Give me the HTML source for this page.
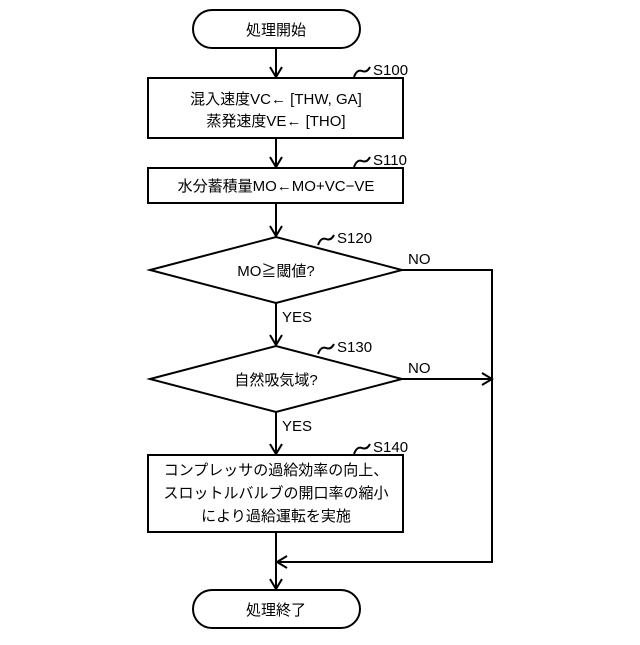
<!DOCTYPE html>
<html><head><meta charset="utf-8"><style>
html,body{margin:0;padding:0;background:#fff;}
svg text{font-family:"Liberation Sans","Noto Sans CJK JP",sans-serif;fill:#000;}
</style></head><body>
<svg width="640" height="640" viewBox="0 0 640 640" xmlns="http://www.w3.org/2000/svg">
<g fill="none" stroke="#000" stroke-width="2">
<rect x="193" y="10" width="167" height="38" rx="19"/>
<rect x="148" y="78" width="255" height="60"/>
<rect x="148" y="168" width="255" height="35"/>
<polygon points="150,270 276,237 402,270 276,303"/>
<polygon points="150,379 276,346 402,379 276,412"/>
<rect x="148" y="455" width="255" height="77"/>
<rect x="193" y="590" width="167" height="38" rx="19"/>
<line x1="276" y1="48" x2="276" y2="77"/>
<line x1="276" y1="138" x2="276" y2="167"/>
<line x1="276" y1="203" x2="276" y2="236"/>
<line x1="276" y1="303" x2="276" y2="345"/>
<line x1="276" y1="412" x2="276" y2="454"/>
<line x1="276" y1="532" x2="276" y2="589"/>
<polyline points="402,270 492,270 492,562 277,562"/>
<line x1="402" y1="379" x2="491" y2="379"/>
<polyline points="270,67 276,77 282,67"/>
<polyline points="270,157 276,167 282,157"/>
<polyline points="270,226 276,236 282,226"/>
<polyline points="270,335 276,345 282,335"/>
<polyline points="270,444 276,454 282,444"/>
<polyline points="270,579 276,589 282,579"/>
<polyline points="482,373 492,379 482,385"/>
<polyline points="287,556 277,562 287,568"/>
<path d="M354,77 q3,-8 8,-6 t8,-4"/>
<path d="M354,167 q3,-8 8,-6 t8,-4"/>
<path d="M318,245 q3,-8 8,-6 t8,-4"/>
<path d="M318,354 q3,-8 8,-6 t8,-4"/>
<path d="M354,454 q3,-8 8,-6 t8,-4"/>
</g>
<g font-size="15">
<text x="276" y="35" text-anchor="middle">処理開始</text>
<text x="276" y="104" text-anchor="middle">混入速度VC← [THW, GA]</text>
<text x="276" y="126" text-anchor="middle">蒸発速度VE← [THO]</text>
<text x="276" y="191" text-anchor="middle">水分蓄積量MO←MO+VC−VE</text>
<text x="276" y="276" text-anchor="middle">MO≧閾値?</text>
<text x="276" y="385" text-anchor="middle">自然吸気域?</text>
<text x="276" y="475" text-anchor="middle">コンプレッサの過給効率の向上、</text>
<text x="276" y="498" text-anchor="middle">スロットルバルブの開口率の縮小</text>
<text x="276" y="521" text-anchor="middle">により過給運転を実施</text>
<text x="276" y="615" text-anchor="middle">処理終了</text>
<text x="373" y="75">S100</text>
<text x="373" y="165">S110</text>
<text x="337" y="243">S120</text>
<text x="337" y="352">S130</text>
<text x="373" y="452">S140</text>
<text x="408" y="264">NO</text>
<text x="408" y="373">NO</text>
<text x="282" y="322">YES</text>
<text x="282" y="431">YES</text>
</g>
</svg>
</body></html>
